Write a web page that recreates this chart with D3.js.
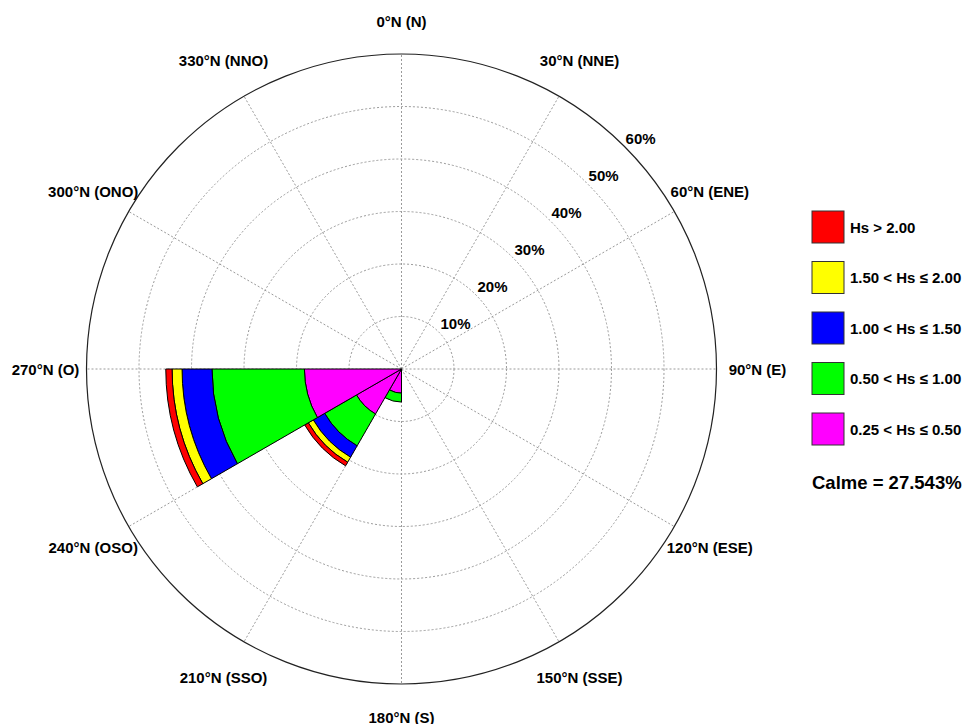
<!DOCTYPE html>
<html>
<head>
<meta charset="utf-8">
<script src="https://cdn.jsdelivr.net/npm/d3@7"></script>
<style>
  html, body { margin: 0; padding: 0; background: #fff; }
  svg { display: block; }
  text { font-family: Arial, "Liberation Sans", sans-serif; font-weight: bold; fill: #000; }
</style>
</head>
<body>
<svg id="chart" width="969" height="724"></svg>
<script>
// ---- Data ----
const directionAngles = [0, 30, 60, 90, 120, 150, 180, 210, 240, 270, 300, 330];
const directionLabels = ["0°N (N)", "30°N (NNE)", "60°N (ENE)", "90°N (E)", "120°N (ESE)", "150°N (SSE)",
                         "180°N (S)", "210°N (SSO)", "240°N (OSO)", "270°N (O)", "300°N (ONO)", "330°N (NNO)"];
const radialTicks = [10, 20, 30, 40, 50, 60];
const sectorStarts = [180, 210, 240];      // sector spans [start, start + 30)
const sectorWidth = 30;
// percentage of occurrence per Hs class, per sector
const hs025to050 = [4.6, 9.9, 18.5];
const hs050to100 = [1.7, 7.0, 17.6];
const hs100to150 = [0.0, 2.5, 5.7];
const hs150to200 = [0.0, 1.1, 1.9];
const hsOver200  = [0.0, 0.8, 1.2];
const classNames = ["0.25 < Hs ≤ 0.50", "0.50 < Hs ≤ 1.00", "1.00 < Hs ≤ 1.50", "1.50 < Hs ≤ 2.00", "Hs > 2.00"];
const classColors = ["#ff00ff", "#00ff00", "#0000ff", "#ffff00", "#ff0000"];
const calmText = "Calme = 27.543%";

// ---- Layout ----
const svg = d3.select("#chart");
const cx = 401.5, cy = 369, R = 315;
const r = d3.scaleLinear().domain([0, 60]).range([0, R]);
const toRad = d => d * Math.PI / 180;

const g = svg.append("g").attr("transform", `translate(${cx},${cy})`);

// grid circles
g.selectAll("circle.grid").data(radialTicks.slice(0, -1)).enter().append("circle")
  .attr("class", "grid").attr("r", d => r(d))
  .attr("fill", "none").attr("stroke", "#9a9a9a").attr("stroke-width", 1).attr("stroke-dasharray", "2,2");

// spokes
g.selectAll("line.spoke").data(directionAngles).enter().append("line")
  .attr("x1", 0).attr("y1", 0)
  .attr("x2", d => R * Math.sin(toRad(d)))
  .attr("y2", d => -R * Math.cos(toRad(d)))
  .attr("stroke", "#9a9a9a").attr("stroke-width", 1).attr("stroke-dasharray", "2,2");

// outer circle
g.append("circle").attr("r", r(60)).attr("fill", "none").attr("stroke", "#222").attr("stroke-width", 1.2);

// stacked bars
const series = [hs025to050, hs050to100, hs100to150, hs150to200, hsOver200];
const arc = d3.arc();
sectorStarts.forEach((start, i) => {
  let cum = 0;
  series.forEach((s, k) => {
    const v = s[i];
    if (v <= 0) return;
    const inner = cum, outer = cum + v;
    cum = outer;
    g.append("path")
      .attr("d", arc({
        innerRadius: r(inner), outerRadius: r(outer),
        startAngle: toRad(start), endAngle: toRad(start + sectorWidth)
      }))
      .attr("fill", classColors[k]).attr("stroke", "#000").attr("stroke-width", 1);
  });
});

// radial tick labels
g.selectAll("text.rt").data(radialTicks).enter().append("text")
  .attr("x", d => 0.705 * r(d) + 17)
  .attr("y", d => -0.705 * r(d) - 8.5)
  .attr("text-anchor", "middle").attr("dominant-baseline", "central")
  .style("font-size", "15px")
  .text(d => d + "%");

// direction labels
g.selectAll("text.dir").data(directionAngles).enter().append("text")
  .attr("x", d => 356 * Math.sin(toRad(d)))
  .attr("y", d => {
    const c = Math.cos(toRad(d));
    const rr = Math.abs(c) > 0.99 ? 348 : 356;
    return -rr * c;
  })
  .attr("text-anchor", "middle").attr("dominant-baseline", "central")
  .style("font-size", "15px")
  .text((d, i) => directionLabels[i]);

// legend
const legendOrder = [4, 3, 2, 1, 0];
const lg = svg.append("g");
legendOrder.forEach((k, j) => {
  const y0 = 211 + j * 50.5;
  lg.append("rect").attr("x", 812).attr("y", y0).attr("width", 32).attr("height", 32)
    .attr("fill", classColors[k]).attr("stroke", "#333").attr("stroke-width", 1);
  lg.append("text").attr("x", 850).attr("y", y0 + 16).attr("dominant-baseline", "central")
    .style("font-size", "15px").text(classNames[k]);
});
lg.append("text").attr("x", 812).attr("y", 482).attr("dominant-baseline", "central")
  .style("font-size", "18.5px").text(calmText);
</script>
</body>
</html>
